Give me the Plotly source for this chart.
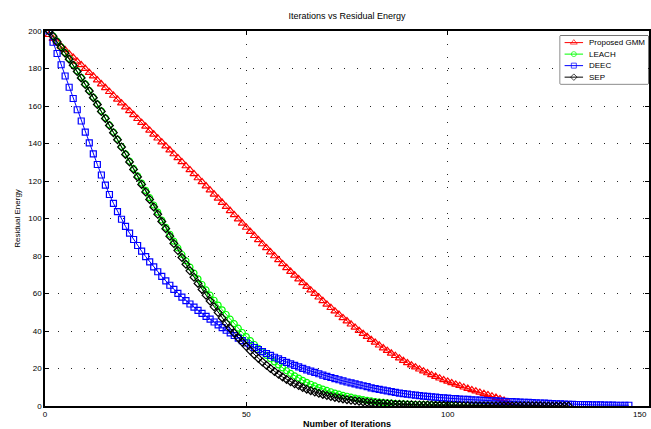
import plotly.graph_objects as go

# Residual energy (J) per iteration for each protocol; iteration index starts at 1
proposed_gmm = [
    198.0, 195.9, 193.9, 191.8, 189.9, 187.8, 185.9, 183.8, 181.9, 179.9,
    177.8, 175.9, 173.8, 171.7, 169.7, 167.6, 165.6, 163.5, 161.5, 159.4,
    157.4, 155.3, 153.2, 151.1, 149.1, 147.0, 144.9, 142.8, 140.7, 138.6,
    136.5, 134.4, 132.3, 130.2, 128.0, 125.9, 123.8, 121.6, 119.5, 117.3,
    115.1, 112.9, 110.7, 108.5, 106.3, 104.1, 101.9, 99.7, 97.4, 95.2,
    93.0, 90.8, 88.6, 86.4, 84.3, 82.1, 80.0, 77.9, 75.8, 73.7,
    71.7, 69.7, 67.7, 65.7, 63.7, 61.8, 59.9, 58.0, 56.1, 54.2,
    52.4, 50.6, 48.8, 47.0, 45.3, 43.6, 41.9, 40.2, 38.6, 37.0,
    35.4, 33.9, 32.4, 30.9, 29.5, 28.1, 26.8, 25.5, 24.2, 23.0,
    21.8, 20.7, 19.6, 18.6, 17.6, 16.6, 15.7, 14.8, 13.9, 13.1,
    12.3, 11.5, 10.8, 10.0, 9.3, 8.6, 7.9, 7.2, 6.6, 5.9,
    5.2, 4.5, 3.8, 3.0, 2.2,
]

leach = [
    200.0, 197.4, 194.6, 191.6, 188.5, 185.3, 182.0, 178.7, 175.3, 171.8,
    168.3, 164.7, 161.1, 157.4, 153.7, 149.9, 146.1, 142.3, 138.4, 134.5,
    130.6, 126.7, 122.8, 118.9, 115.0, 111.1, 107.2, 103.4, 99.2, 95.3,
    91.6, 87.9, 84.3, 80.8, 77.4, 74.1, 70.9, 67.8, 64.8, 61.9,
    59.1, 56.4, 53.8, 51.3, 48.8, 46.3, 43.9, 41.5, 39.2, 37.0,
    34.9, 32.8, 30.8, 28.9, 27.0, 25.2, 23.5, 21.9, 20.3, 18.8,
    17.4, 16.1, 14.9, 13.7, 12.6, 11.6, 10.7, 9.8, 9.0, 8.3,
    7.6, 6.9, 6.3, 5.7, 5.2, 4.7, 4.2, 3.8, 3.4, 3.0,
    2.7, 2.4, 2.1, 1.9, 1.7, 1.5, 1.3, 1.2, 1.1, 1.0,
    0.9, 0.8, 0.8, 0.7, 0.7, 0.6, 0.6, 0.5, 0.5, 0.5,
    0.4, 0.4, 0.4, 0.3, 0.3, 0.3, 0.3, 0.2, 0.2, 0.2,
]

deec = [
    200.0, 194.0, 188.0, 182.0, 176.0, 170.0, 164.0, 158.0, 152.0, 146.1,
    140.3, 134.5, 128.8, 123.2, 117.8, 112.8, 108.1, 103.7, 99.6, 95.8,
    92.2, 88.8, 85.6, 82.6, 79.7, 76.9, 74.2, 71.6, 69.1, 66.7,
    64.4, 62.2, 60.1, 58.1, 56.2, 54.4, 52.7, 51.0, 49.4, 47.8,
    46.3, 44.8, 43.3, 41.8, 40.4, 39.0, 37.6, 36.2, 34.9, 33.6,
    32.4, 31.2, 30.1, 29.0, 28.0, 27.0, 26.0, 25.1, 24.2, 23.3,
    22.5, 21.7, 20.9, 20.1, 19.3, 18.6, 17.9, 17.2, 16.5, 15.8,
    15.2, 14.6, 14.0, 13.4, 12.8, 12.3, 11.8, 11.3, 10.8, 10.3,
    9.7, 9.3, 8.9, 8.5, 8.1, 7.7, 7.3, 6.9, 6.6, 6.3,
    6.0, 5.8, 5.5, 5.3, 5.1, 4.9, 4.7, 4.5, 4.3, 4.2,
    4.0, 3.9, 3.7, 3.6, 3.5, 3.3, 3.2, 3.1, 3.0, 2.9,
    2.8, 2.7, 2.6, 2.5, 2.4, 2.3, 2.2, 2.1, 2.0, 1.9,
    1.8, 1.7, 1.6, 1.5, 1.4, 1.3, 1.2, 1.1, 1.0, 0.9,
    0.9, 0.8, 0.8, 0.7, 0.7, 0.6, 0.6, 0.6, 0.5, 0.5,
    0.5, 0.4, 0.4, 0.4, 0.4,
]

sep = [
    200.0, 197.2, 194.3, 191.3, 188.2, 185.0, 181.7, 178.4, 175.0, 171.5,
    168.0, 164.4, 160.8, 157.1, 153.4, 149.6, 145.8, 142.0, 138.1, 134.2,
    130.2, 126.2, 122.2, 118.2, 114.2, 110.2, 106.2, 102.3, 98.4, 94.6,
    90.6, 86.7, 82.9, 79.2, 75.6, 72.1, 68.7, 65.4, 62.2, 59.1,
    56.0, 52.9, 49.9, 47.0, 44.2, 41.5, 38.9, 36.4, 34.0, 31.7,
    29.5, 27.4, 25.4, 23.5, 21.7, 20.0, 18.4, 16.9, 15.5, 14.2,
    13.0, 11.9, 10.9, 9.9, 9.0, 8.2, 7.5, 6.8, 6.2, 5.6,
    5.1, 4.6, 4.2, 3.8, 3.4, 3.1, 2.8, 2.5, 2.2, 2.0,
    1.8, 1.6, 1.5, 1.3, 1.2, 1.1, 1.0, 0.9, 0.8, 0.7,
    0.7, 0.6, 0.6, 0.5, 0.5, 0.5, 0.4, 0.4, 0.4, 0.3,
    0.3, 0.3, 0.3, 0.2, 0.2, 0.2, 0.2, 0.2, 0.2, 0.1,
    0.1, 0.1, 0.1, 0.1, 0.1, 0.1, 0.1, 0.1, 0.1, 0.1,
    0.1, 0.1, 0.1, 0.0, 0.0, 0.0, 0.0, 0.0, 0.0, 0.0,
]

series_names = ["Proposed GMM", "LEACH", "DEEC", "SEP"]
series_values = [proposed_gmm, leach, deec, sep]
series_colors = ["#ff0000", "#00ff00", "#0000ff", "#000000"]
series_symbols = ["triangle-up-open", "circle-open", "square-open", "diamond-open"]
series_sizes = [7, 6, 6, 6]

x_ticks = [0, 50, 100, 150]
y_ticks = [0, 20, 40, 60, 80, 100, 120, 140, 160, 180, 200]

FONT = "Liberation Sans Narrow, Arial Narrow, Liberation Sans, Arial, sans-serif"

fig = go.Figure()

for name, vals, col, sym, sz in zip(series_names, series_values, series_colors,
                                    series_symbols, series_sizes):
    fig.add_trace(go.Scatter(
        x=list(range(1, len(vals) + 1)), y=vals, name=name,
        mode="lines+markers",
        line=dict(color=col, width=1),
        marker=dict(symbol=sym, size=sz, color=col,
                    line=dict(color=col, width=1.2)),
        showlegend=False, xaxis="x", yaxis="y",
    ))

# Boxed key in the upper-right corner, drawn on its own small 0..1 axes
key_rows = [0.86, 0.62, 0.38, 0.14]
for name, col, sym, sz, ky in zip(series_names, series_colors, series_symbols,
                                  series_sizes, key_rows):
    fig.add_trace(go.Scatter(
        x=[0.05, 0.155, 0.26], y=[ky, ky, ky], mode="lines+markers",
        line=dict(color=col, width=1),
        marker=dict(symbol=sym, size=[0, sz - 1, 0], color=col,
                    line=dict(color=col, width=1)),
        showlegend=False, hoverinfo="skip", xaxis="x2", yaxis="y2",
    ))
    fig.add_annotation(x=0.31, y=ky, xref="x2", yref="y2", text=name,
                       showarrow=False, xanchor="left", yanchor="middle",
                       font=dict(family=FONT, size=8, color="black"))

fig.add_shape(type="rect", xref="paper", yref="paper",
              x0=0.853, x1=0.9985, y0=0.859, y1=0.987,
              line=dict(color="black", width=1), fillcolor="white",
              layer="between")

# last x tick label sits at the page edge; keep it inside the page
fig.add_annotation(x=x_ticks[-1], y=0, xref="x", yref="y", text=str(x_ticks[-1]),
                   showarrow=False, xanchor="right", yanchor="top", yshift=-2,
                   font=dict(family=FONT, size=8, color="black"))

grid_dash = "1px,12px"
fig.update_layout(
    width=651, height=429,
    margin=dict(l=45, r=0, t=31, b=23),
    paper_bgcolor="white", plot_bgcolor="white",
    font=dict(family=FONT, size=8, color="black"),
    title=dict(text="Iterations vs Residual Energy", x=0.533, xanchor="center",
               y=0.962, yanchor="middle",
               font=dict(family=FONT, size=9, color="black")),
    xaxis=dict(
        range=[0, 150], tickvals=x_ticks[:-1], ticks="inside", ticklen=4,
        tickcolor="black", showline=True, linecolor="black", linewidth=1.5,
        mirror="ticks", showgrid=True, gridcolor="#222222", gridwidth=1,
        griddash=grid_dash, zeroline=False,
        title=dict(text="<b>Number of Iterations</b>", standoff=2,
                   font=dict(family=FONT, size=9)),
        tickfont=dict(size=8),
    ),
    yaxis=dict(
        range=[0, 200], tickvals=y_ticks, ticks="inside", ticklen=4,
        tickcolor="black", showline=True, linecolor="black", linewidth=1.5,
        mirror="ticks", showgrid=True, gridcolor="#222222", gridwidth=1,
        griddash=grid_dash, zeroline=False,
        title=dict(text="Residual Energy", standoff=6,
                   font=dict(family=FONT, size=8)),
        tickfont=dict(size=8),
    ),
    xaxis2=dict(domain=[0.853, 0.9985], range=[0, 1], visible=False,
                anchor="y2", fixedrange=True),
    yaxis2=dict(domain=[0.859, 0.987], range=[0, 1], visible=False,
                anchor="x2", fixedrange=True),
)

fig.write_html("out.html")
